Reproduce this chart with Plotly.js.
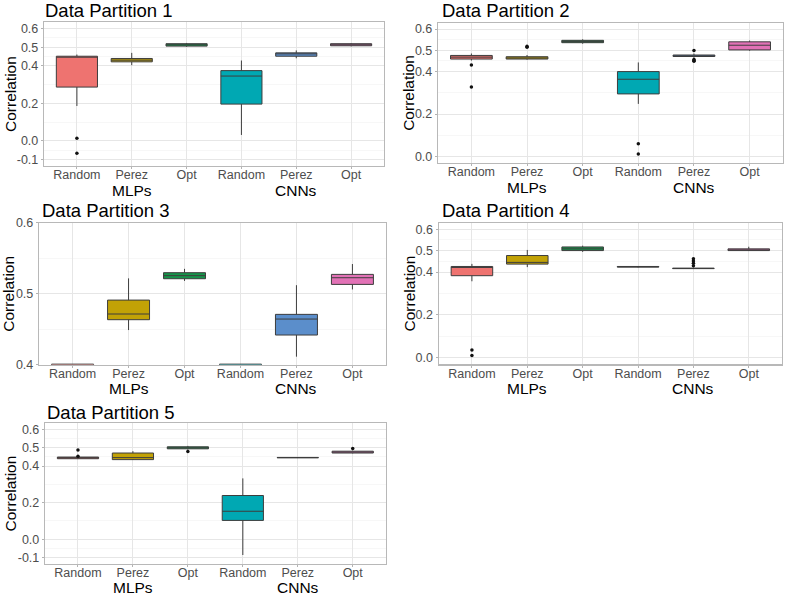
<!DOCTYPE html>
<html>
<head>
<meta charset="utf-8">
<script src="https://cdn.plot.ly/plotly-3.0.1.min.js"></script>
<style>html,body{margin:0;padding:0;background:#fff;}#chart{width:786px;height:598px;}</style>
</head>
<body>
<div id="chart"></div>
<script>
// ---- data ----
const categories = ["Random", "Perez", "Opt", "Random", "Perez", "Opt"];
const groups = ["MLPs", "CNNs"];
const titles = ["Data Partition 1", "Data Partition 2", "Data Partition 3", "Data Partition 4", "Data Partition 5"];
const boxColors = ["#EE7370", "#C2A206", "#16934A", "#00A8B3", "#5B8ECB", "#E272B6"];

// Partition 1
const q1_p1  = [0.287, 0.422, 0.506, 0.196, 0.452, 0.508];
const med_p1 = [0.450, 0.431, 0.513, 0.346, 0.465, 0.513];
const q3_p1  = [0.452, 0.440, 0.519, 0.375, 0.470, 0.519];
const lo_p1  = [0.186, 0.404, 0.502, 0.031, 0.441, 0.505];
const hi_p1  = [0.461, 0.470, 0.523, 0.429, 0.483, 0.522];
const outCat_p1 = [1, 1];
const outVal_p1 = [0.014, -0.067];

// Partition 2
const q1_p2  = [0.459, 0.459, 0.536, 0.295, 0.471, 0.502];
const med_p2 = [0.468, 0.464, 0.541, 0.364, 0.474, 0.524];
const q3_p2  = [0.476, 0.470, 0.547, 0.400, 0.478, 0.540];
const lo_p2  = [0.452, 0.456, 0.531, 0.248, 0.465, 0.498];
const hi_p2  = [0.485, 0.478, 0.552, 0.443, 0.485, 0.546];
const outCat_p2 = [1, 1, 2, 2, 4, 4, 5, 5, 5, 5];
const outVal_p2 = [0.431, 0.327, 0.519, 0.515, 0.0605, 0.012, 0.499, 0.457, 0.452, 0.449];

// Partition 3
const q1_p3  = [0.300, 0.4634, 0.5211, 0.250, 0.4418, 0.5131];
const med_p3 = [0.360, 0.4714, 0.5254, 0.340, 0.4643, 0.5225];
const q3_p3  = [0.4008, 0.491, 0.5296, 0.4008, 0.4709, 0.5272];
const lo_p3  = [0.200, 0.4488, 0.518, 0.100, 0.4113, 0.506];
const hi_p3  = [0.4008, 0.5216, 0.535, 0.4008, 0.512, 0.5418];
const outCat_p3 = [];
const outVal_p3 = [];

// Partition 4
const q1_p4  = [0.383, 0.437, 0.500, 0.423, 0.416, 0.500];
const med_p4 = [0.4246, 0.445, 0.508, 0.4246, 0.417, 0.503];
const q3_p4  = [0.426, 0.477, 0.517, 0.426, 0.418, 0.508];
const lo_p4  = [0.357, 0.423, 0.494, 0.421, 0.414, 0.498];
const hi_p4  = [0.438, 0.503, 0.523, 0.428, 0.420, 0.518];
const outCat_p4 = [1, 1, 5, 5, 5, 5];
const outVal_p4 = [0.037, 0.011, 0.462, 0.452, 0.441, 0.429];

// Partition 5
const q1_p5  = [0.440, 0.435, 0.494, 0.103, 0.445, 0.471];
const med_p5 = [0.446, 0.446, 0.499, 0.153, 0.446, 0.476];
const q3_p5  = [0.449, 0.471, 0.505, 0.239, 0.447, 0.481];
const lo_p5  = [0.438, 0.433, 0.490, -0.086, 0.444, 0.469];
const hi_p5  = [0.452, 0.481, 0.510, 0.3325, 0.448, 0.484];
const outCat_p5 = [1, 1, 3, 6];
const outVal_p5 = [0.487, 0.453, 0.480, 0.496];

// y ticks per panel
const yTicks_wide = [-0.1, 0.0, 0.2, 0.4, 0.5, 0.6];
const yTickText_wide = ["-0.1", "0.0", "0.2", "0.4", "0.5", "0.6"];
const yTicks_mid = [0.0, 0.2, 0.4, 0.5, 0.6];
const yTickText_mid = ["0.0", "0.2", "0.4", "0.5", "0.6"];
const yTicks_narrow = [0.4, 0.5, 0.6];
const yTickText_narrow = ["0.4", "0.5", "0.6"];

// ---- layout geometry (pixels) ----
const W = 786, H = 598;
const panels = [
  {q1: q1_p1, med: med_p1, q3: q3_p1, lo: lo_p1, hi: hi_p1, oc: outCat_p1, ov: outVal_p1,
   px: [44, 384], py: [22, 166], yr: [-0.135, 0.635], tv: yTicks_wide, tt: yTickText_wide,
   minor: [-0.05, 0.1, 0.3, 0.45, 0.55], titleX: 43, titleY: 11, corrX: 10, grpOff: 24},
  {q1: q1_p2, med: med_p2, q3: q3_p2, lo: lo_p2, hi: hi_p2, oc: outCat_p2, ov: outVal_p2,
   px: [438, 783], py: [22.7, 163], yr: [-0.03, 0.63], tv: yTicks_mid, tt: yTickText_mid,
   minor: [0.1, 0.3, 0.45, 0.55], titleX: 440, titleY: 11, corrX: 409, grpOff: 24},
  {q1: q1_p3, med: med_p3, q3: q3_p3, lo: lo_p3, hi: hi_p3, oc: outCat_p3, ov: outVal_p3,
   px: [39, 386], py: [222.7, 364.7], yr: [0.4, 0.6], tv: yTicks_narrow, tt: yTickText_narrow,
   minor: [0.45, 0.55], titleX: 40, titleY: 210, corrX: 9, grpOff: 24},
  {q1: q1_p4, med: med_p4, q3: q3_p4, lo: lo_p4, hi: hi_p4, oc: outCat_p4, ov: outVal_p4,
   px: [438.7, 782], py: [222.7, 364.3], yr: [-0.03, 0.63], tv: yTicks_mid, tt: yTickText_mid,
   minor: [0.1, 0.3, 0.45, 0.55], titleX: 440, titleY: 210, corrX: 409, grpOff: 24},
  {q1: q1_p5, med: med_p5, q3: q3_p5, lo: lo_p5, hi: hi_p5, oc: outCat_p5, ov: outVal_p5,
   px: [45, 385.7], py: [423, 564], yr: [-0.135, 0.635], tv: yTicks_wide, tt: yTickText_wide,
   minor: [-0.05, 0.1, 0.3, 0.45, 0.55], titleX: 45, titleY: 412, corrX: 10, grpOff: 23.5}
];

const FONT = "Liberation Sans, Arial, Helvetica, sans-serif";
const positions = categories.map((c, i) => i + 1);
const traces = [];
const layout = {
  width: W, height: H,
  margin: {l: 0, r: 0, t: 0, b: 0},
  paper_bgcolor: "#ffffff",
  plot_bgcolor: "#ffffff",
  showlegend: false,
  font: {family: FONT},
  annotations: []
};

panels.forEach((p, k) => {
  const n = k + 1;
  const xa = "x" + (n === 1 ? "" : n);
  const ya = "y" + (n === 1 ? "" : n);
  const xkey = "xaxis" + (n === 1 ? "" : n);
  const ykey = "yaxis" + (n === 1 ? "" : n);

  categories.forEach((c, i) => {
    traces.push({
      type: "box",
      x: [positions[i]],
      q1: [p.q1[i]], median: [p.med[i]], q3: [p.q3[i]],
      lowerfence: [p.lo[i]], upperfence: [p.hi[i]],
      width: 0.75,
      whiskerwidth: 0,
      fillcolor: boxColors[i],
      line: {color: "#3d3d3d", width: 1},
      boxpoints: false,
      hoverinfo: "skip",
      xaxis: xa, yaxis: ya
    });
  });
  if (p.oc.length) {
    traces.push({
      type: "scatter", mode: "markers",
      x: p.oc, y: p.ov,
      marker: {color: "#111111", size: 3.5},
      hoverinfo: "skip",
      xaxis: xa, yaxis: ya
    });
  }

  layout[xkey] = {
    domain: [p.px[0] / W, p.px[1] / W],
    anchor: ya,
    range: [0.4, 6.6],
    tickmode: "array",
    tickvals: positions,
    ticktext: categories,
    tickfont: {size: 12.5, color: "#4D4D4D", family: FONT},
    ticks: "outside", ticklen: 2, tickcolor: "#B3B3B3",
    ticklabelstandoff: -5,
    showgrid: true, gridcolor: "#E6E6E6", gridwidth: 1,
    showline: true, mirror: true, linecolor: "#B8B8B8", linewidth: 1.2,
    zeroline: false, fixedrange: true
  };
  layout[ykey] = {
    domain: [1 - p.py[1] / H, 1 - p.py[0] / H],
    anchor: xa,
    range: p.yr,
    tickmode: "array",
    tickvals: p.tv,
    ticktext: p.tt,
    tickfont: {size: 12.5, color: "#4D4D4D", family: FONT},
    ticks: "outside", ticklen: 2, tickcolor: "#B3B3B3",
    showgrid: true, gridcolor: "#E6E6E6", gridwidth: 1,
    minor: {tickmode: "array", tickvals: p.minor, showgrid: true, gridcolor: "#F2F2F2", gridwidth: 0.6, ticks: ""},
    showline: true, mirror: true, linecolor: "#B8B8B8", linewidth: 1.2,
    zeroline: false, fixedrange: true
  };

  // panel title
  layout.annotations.push({
    xref: "paper", yref: "paper",
    x: p.titleX / W, y: 1 - p.titleY / H,
    xanchor: "left", yanchor: "middle",
    text: titles[k], showarrow: false,
    font: {size: 18.5, color: "#000000", family: FONT}
  });
  // y axis title
  layout.annotations.push({
    xref: "paper", yref: "paper",
    x: p.corrX / W, y: 1 - ((p.py[0] + p.py[1]) / 2) / H,
    xanchor: "center", yanchor: "middle",
    text: "Correlation", textangle: -90, showarrow: false,
    font: {size: 15.5, color: "#000000", family: FONT}
  });
  // group labels
  groups.forEach((g, gi) => {
    layout.annotations.push({
      xref: xa, yref: "paper",
      x: gi === 0 ? 2 : 5, y: 1 - (p.py[1] + p.grpOff) / H,
      xanchor: "center", yanchor: "middle",
      text: g, showarrow: false,
      font: {size: 15.5, color: "#000000", family: FONT}
    });
  });
});

Plotly.newPlot("chart", traces, layout, {displayModeBar: false, staticPlot: true});
</script>
</body>
</html>
